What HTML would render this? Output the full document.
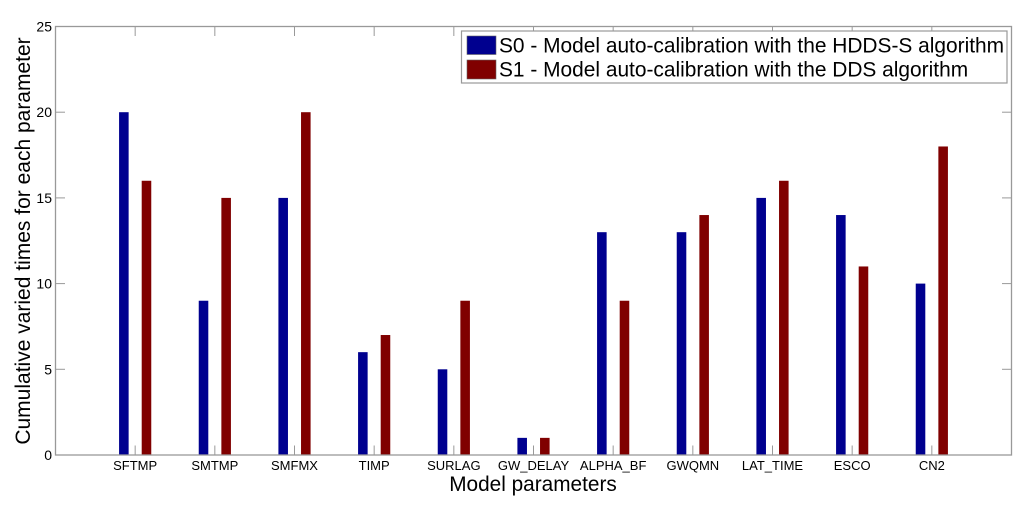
<!DOCTYPE html>
<html lang="en">
<head>
<meta charset="utf-8">
<title>Cumulative varied times for each parameter</title>
<style>
html,body{margin:0;padding:0;background:#fff;width:1024px;height:515px;overflow:hidden}
svg{display:block;font-family:"Liberation Sans",Arial,sans-serif}
</style>
</head>
<body>
<svg id="chart" width="1024" height="515" viewBox="0 0 1024 515" xmlns="http://www.w3.org/2000/svg">
  <rect x="0" y="0" width="1024" height="515" fill="#fff"/>
  <g id="plot"></g>
  <text transform="translate(30,241) rotate(-90)" text-anchor="middle" font-size="21" fill="#000">Cumulative varied times for each parameter</text>
  <text x="533" y="491" text-anchor="middle" font-size="20.8" fill="#000">Model parameters</text>
  <g>
    <rect x="461.5" y="31" width="545.5" height="52" fill="#fff" stroke="#999" stroke-width="1.2"/>
    <rect x="467" y="36" width="29" height="18.5" fill="#00008f" stroke="#666" stroke-width="0.6"/>
    <text x="499" y="52.5" font-size="20.9" fill="#000">S0 - Model auto-calibration with the HDDS-S algorithm</text>
    <rect x="467" y="60" width="29" height="19" fill="#800000" stroke="#666" stroke-width="0.6"/>
    <text x="499" y="76.5" font-size="20.9" fill="#000">S1 - Model auto-calibration with the DDS algorithm</text>
  </g>
</svg>
<script>
const categories = ["SFTMP","SMTMP","SMFMX","TIMP","SURLAG","GW_DELAY","ALPHA_BF","GWQMN","LAT_TIME","ESCO","CN2"];
const s0Values = [20,9,15,6,5,1,13,13,15,14,10];
const s1Values = [16,15,20,7,9,1,9,14,16,11,18];
const yTickLabels = [0,5,10,15,20,25];

const NS = "http://www.w3.org/2000/svg";
const plot = document.getElementById("plot");
const left = 55.5, right = 1011.5, top_ = 26.5, bottom = 455;
const xMax = categories.length + 1, yMax = 25;
const xScale = v => left + (right - left) * v / xMax;
const yScale = v => bottom - (bottom - top_) * v / yMax;
const AXIS = "#999";
const BAR_W = 0.12, BAR_OFF = 0.142;

function make(tag, attrs) {
  const el = document.createElementNS(NS, tag);
  for (const k in attrs) el.setAttribute(k, attrs[k]);
  plot.appendChild(el);
  return el;
}

categories.forEach((name, i) => {
  const c = i + 1;
  const x0 = make("rect", {x: xScale(c - BAR_OFF - BAR_W / 2), y: yScale(s0Values[i]), width: xScale(BAR_W) - left, height: bottom - yScale(s0Values[i]), fill: "#00008f"});
  
  
  const x1 = make("rect", {x: xScale(c + BAR_OFF - BAR_W / 2), y: yScale(s1Values[i]), width: xScale(BAR_W) - left, height: bottom - yScale(s1Values[i]), fill: "#800000"});
  
  

  const tb = make("line", {x1: xScale(c), x2: xScale(c), y1: bottom, y2: bottom - 9.5, stroke: AXIS, "stroke-width": 1});
  
  
  const tt = make("line", {x1: xScale(c), x2: xScale(c), y1: top_, y2: top_ + 9.5, stroke: AXIS, "stroke-width": 1});
  
  

  const lab = make("text", {x: xScale(c), y: 470, "text-anchor": "middle", "font-size": 13, fill: "#000"});
  lab.textContent = name;
  
  
});

yTickLabels.forEach(v => {
  const yy = yScale(v);
  if (v > 0 && v < yMax) {
    const tl = make("line", {x1: left, x2: left + 9.5, y1: yy, y2: yy, stroke: AXIS, "stroke-width": 1});
    
    
    const tr = make("line", {x1: right, x2: right - 9.5, y1: yy, y2: yy, stroke: AXIS, "stroke-width": 1});
    
    
  }
  const lab = make("text", {x: 52, y: yy + 5, "text-anchor": "end", "font-size": 14, fill: "#000"});
  lab.textContent = v;
  
  
});

const frame = make("rect", {x: left, y: top_, width: right - left, height: bottom - top_, fill: "none", stroke: AXIS, "stroke-width": 1.3});


</script>
</body>
</html>
